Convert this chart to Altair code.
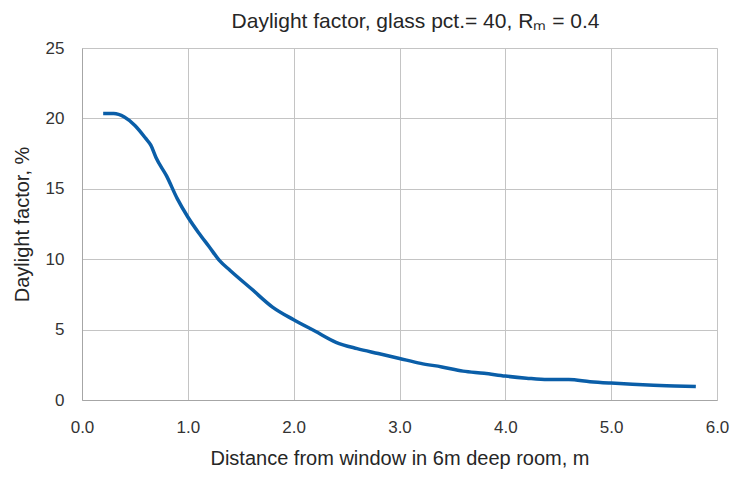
import altair as alt
import pandas as pd

distance = [0.2, 0.3, 0.4, 0.5, 0.6, 0.65, 0.7, 0.8, 0.9, 1.0, 1.1, 1.2, 1.3, 1.4,
            1.6, 1.8, 2.0, 2.2, 2.4, 2.6, 2.8, 3.0, 3.2, 3.4, 3.6, 3.8, 4.0, 4.2,
            4.4, 4.6, 4.8, 5.0, 5.2, 5.4, 5.6, 5.8]
daylight = [20.35, 20.35, 20.1, 19.5, 18.6, 18.1, 17.2, 15.9, 14.3, 13.0, 11.9, 10.9,
            9.9, 9.2, 7.9, 6.6, 5.7, 4.9, 4.1, 3.65, 3.3, 2.95, 2.6, 2.35, 2.05, 1.9,
            1.7, 1.55, 1.45, 1.45, 1.3, 1.2, 1.12, 1.05, 1.0, 0.95]
x_ticks = [0, 1, 2, 3, 4, 5, 6]
y_ticks = [0, 5, 10, 15, 20, 25]

df = pd.DataFrame({"distance": distance, "daylight": daylight})

font = "Liberation Sans"

chart = alt.Chart(df).mark_line(color="#0a5ea8", strokeWidth=3.5, interpolate="monotone").encode(
    x=alt.X("distance:Q",
            scale=alt.Scale(domain=[0, 6], nice=False),
            axis=alt.Axis(values=x_ticks, format=".1f", title="Distance from window in 6m deep room, m",
                          labelPadding=19, titlePadding=13, ticks=False, domain=True, labelFlush=False,
                          domainColor="#a6a6a6", gridColor="#c4c4c4",
                          labelFontSize=17, titleFontSize=20, labelColor="#333333",
                          titleColor="#262626", titleFontWeight="normal",
                          labelFont=font, titleFont=font)),
    y=alt.Y("daylight:Q",
            scale=alt.Scale(domain=[0, 25], nice=False),
            axis=alt.Axis(values=y_ticks, title="Daylight factor, %",
                          labelPadding=18, titlePadding=13, ticks=False, domain=True, labelFlush=False,
                          domainColor="#a6a6a6", gridColor="#c4c4c4",
                          labelFontSize=17, titleFontSize=20, labelColor="#333333",
                          titleColor="#262626", titleFontWeight="normal",
                          labelFont=font, titleFont=font)),
).properties(
    width=635,
    height=352,
    title=alt.TitleParams("Daylight factor, glass pct.= 40, Rₘ = 0.4", fontSize=21, font=font,
                          fontWeight="normal", color="#262626", anchor="middle", dx=16, offset=7),
    autosize=alt.AutoSizeParams(type="none"),
    padding={"left": 74, "top": 40, "right": 13, "bottom": 71},
).configure_view(stroke="#b0b0b0", strokeWidth=1).configure(background="white")

chart.save("out.html", embed_options={"renderer": "svg", "actions": False})
